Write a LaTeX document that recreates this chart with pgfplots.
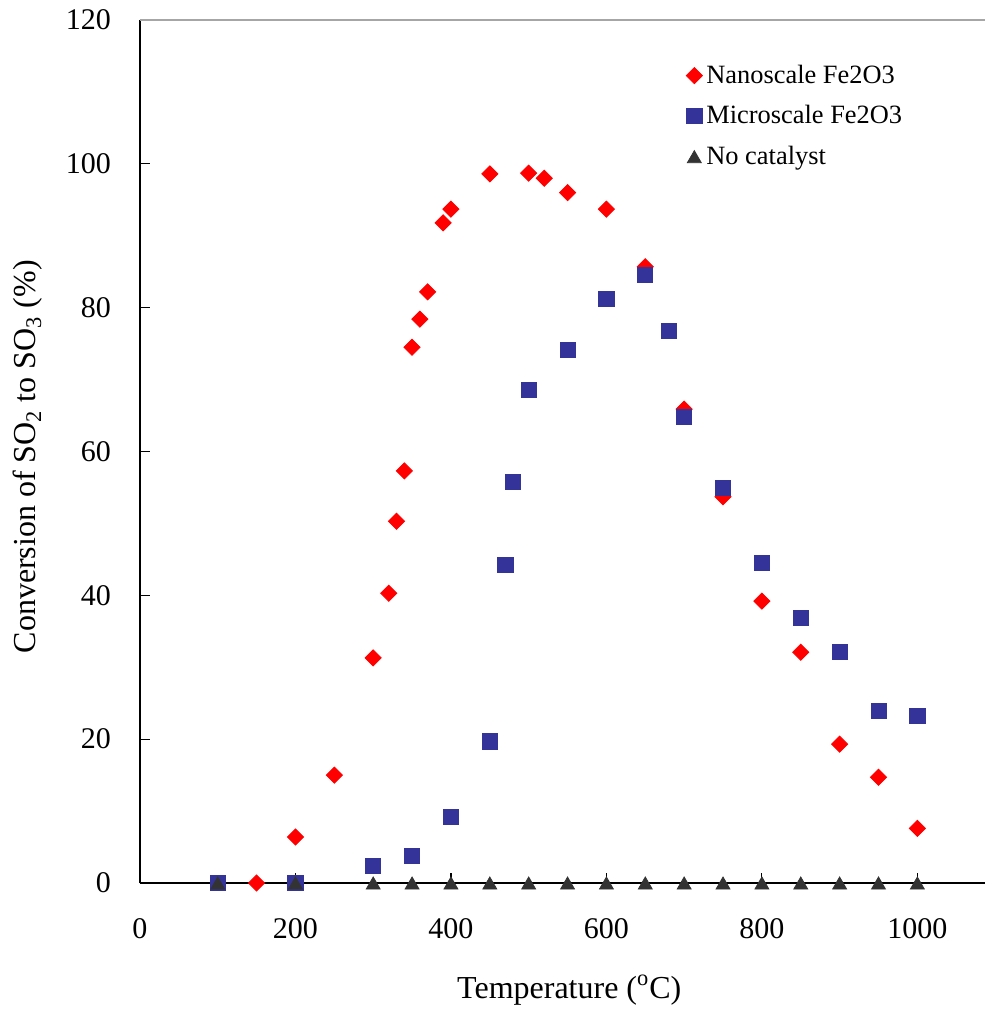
\documentclass[border=0pt]{standalone}
\usepackage{pgfplots}
\pgfplotsset{compat=1.18}
\usepackage{fontspec}
\setmainfont{Liberation Serif}
\definecolor{nanored}{HTML}{FF0000}
\definecolor{microblue}{HTML}{333399}
\definecolor{nocat}{HTML}{333333}
\begin{document}
\begin{tikzpicture}
\begin{axis}[
  scale only axis,
  width=422.5pt, height=431.5pt,
  xmin=0, xmax=1087, ymin=0, ymax=120,
  axis x line*=bottom, axis y line*=left,
  axis line style={-, black, line width=0.8pt},
  xtick={0,200,...,1000}, ytick={0,20,...,120},
  tick align=inside, major tick length=5pt,
  tick style={black, line width=0.6pt},
  /pgf/number format/assume math mode=true,
  /pgf/number format/1000 sep={},
  ticklabel style={font=\fontsize{15}{17}\selectfont},
  yticklabel style={xshift=-11pt},
  xticklabel style={yshift=-14pt},
  clip=false,
  xlabel={Temperature (\textsuperscript{o}C)},
  ylabel={Conversion of SO\textsubscript{2} to SO\textsubscript{3} (\%)},
  label style={font=\fontsize{16}{18}\selectfont},
  xlabel style={at={(axis description cs:0.508,0)}, anchor=center, yshift=-53.5pt},
  ylabel style={at={([xshift=-56pt]axis description cs:0,0.494)}, anchor=center},
  legend style={at={(rel axis cs:0.646,0.953)}, anchor=north west, draw=none, fill=none,
    font=\fontsize{13.2}{15}\selectfont, row sep=5.6pt, inner sep=0pt,
    /tikz/every even column/.append style={column sep=2.5pt}},
  legend cell align=left,
]
\addplot[only marks, mark=square*, color=nanored, mark options={rotate=45}, mark size=2.85pt] coordinates {
(150,0) (200,6.4) (250,15.0) (300,31.3) (320,40.3) (330,50.3) (340,57.3) (350,74.5)
(360,78.4) (370,82.2) (390,91.8) (400,93.7) (450,98.6) (500,98.7) (520,98.0) (550,96.0)
(600,93.7) (650,85.7) (700,65.9) (750,53.7) (800,39.2) (850,32.1) (900,19.3) (950,14.7) (1000,7.6)
};
\addlegendentry{Nanoscale Fe2O3}
\addplot[only marks, mark=square*, color=microblue, mark size=3.8pt] coordinates {
(100,0) (200,0) (300,2.4) (350,3.8) (400,9.2) (450,19.7) (470,44.2) (480,55.8)
(500,68.6) (550,74.1) (600,81.2) (650,84.6) (680,76.8) (700,64.8) (750,54.9)
(800,44.5) (850,36.9) (900,32.1) (950,23.9) (1000,23.2)
};
\addlegendentry{Microscale Fe2O3}
\addplot[only marks, mark=triangle*, color=nocat, mark size=4pt, mark options={yshift=-1pt}] coordinates {
(100,0) (200,0) (300,0) (350,0) (400,0) (450,0) (500,0) (550,0) (600,0) (650,0)
(700,0) (750,0) (800,0) (850,0) (900,0) (950,0) (1000,0)
};
\addlegendentry{No catalyst}
\draw[gray!70, line width=0.8pt] (rel axis cs:0,1) -- (rel axis cs:1,1);
\coordinate (sw) at (rel axis cs:0,0);
\coordinate (ne) at (rel axis cs:1,1);
\end{axis}
\pgfresetboundingbox
\useasboundingbox ([shift={(-70pt,-65pt)}]sw) rectangle ([shift={(0pt,10pt)}]ne);
\end{tikzpicture}
\end{document}
